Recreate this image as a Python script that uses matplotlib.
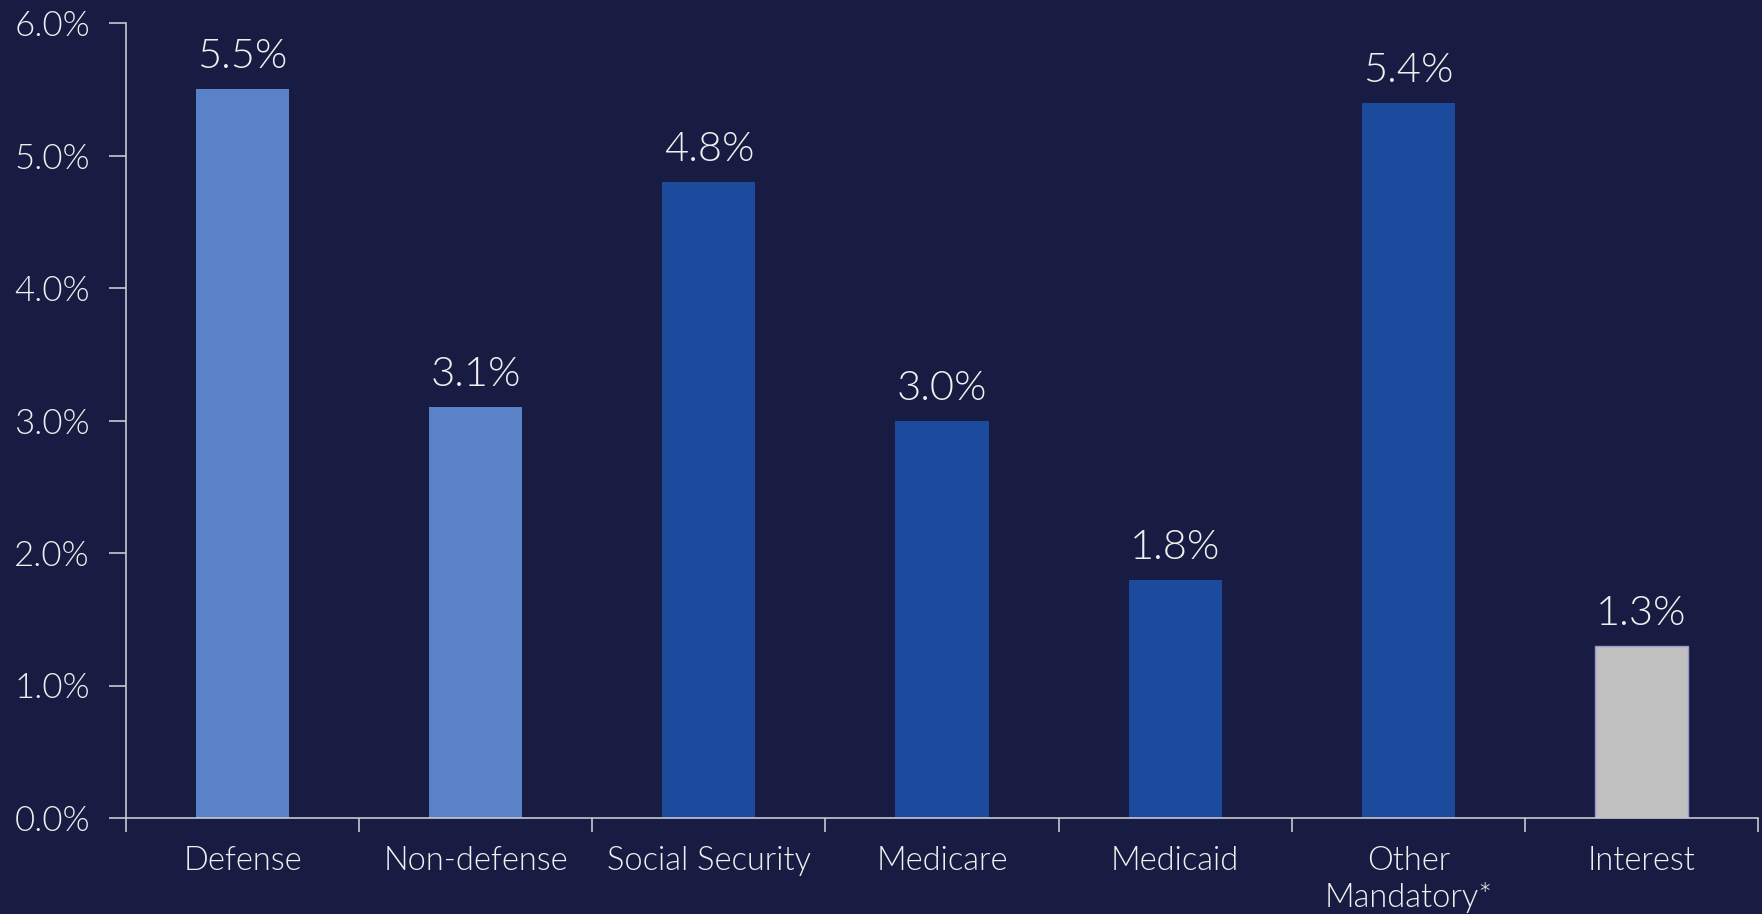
import matplotlib.pyplot as plt
from matplotlib.ticker import FixedLocator, PercentFormatter

CATEGORIES = ['Defense', 'Non-defense', 'Social Security', 'Medicare',
              'Medicaid', 'Other\nMandatory*', 'Interest']
VALUES = [5.5, 3.1, 4.8, 3.0, 1.8, 5.4, 1.3]
BAR_COLORS = ['#5A82C8', '#5A82C8', '#1C4A9C', '#1C4A9C',
              '#1C4A9C', '#1C4A9C', '#C0C0C0']

BG = '#181C42'
FG = '#F0F0F0'
AXIS = '#C8C8D0'

plt.rcParams['font.family'] = ['Lato', 'DejaVu Sans']
plt.rcParams['font.weight'] = 300

fig = plt.figure(figsize=(17.62, 9.14), dpi=100, facecolor=BG)
ax = fig.add_axes([126 / 1762, 1 - 818 / 914, (1758 - 126) / 1762, (818 - 23) / 914])
ax.set_facecolor(BG)

x = list(range(len(CATEGORIES)))
bars = ax.bar(x, VALUES, width=0.4, color=BAR_COLORS, zorder=2)
bars[-1].set_edgecolor('#9A96D0')
bars[-1].set_linewidth(1)

for xi, v in zip(x, VALUES):
    ax.annotate(f'{v:.1f}%', (xi, v), xytext=(0, 10), textcoords='offset points',
                ha='center', va='bottom', color=FG, fontsize=30)

ax.set_xlim(-0.5, len(CATEGORIES) - 0.5)
ax.set_ylim(0, 6)
ax.set_yticks([0, 1, 2, 3, 4, 5, 6])
ax.yaxis.set_major_formatter(PercentFormatter(decimals=1))

ax.set_xticks(x)
ax.set_xticklabels(CATEGORIES, fontsize=23.5, color=FG, va='top', linespacing=1.25)
ax.xaxis.set_minor_locator(FixedLocator([i - 0.5 for i in range(len(CATEGORIES) + 1)]))
ax.tick_params(axis='x', which='major', length=0, pad=20)
ax.tick_params(axis='x', which='minor', length=10, width=1.2, color=AXIS)
ax.tick_params(axis='y', length=12, width=1.2, color=AXIS, labelsize=25,
               labelcolor=FG, pad=14)

for side in ['top', 'right']:
    ax.spines[side].set_visible(False)
for side in ['left', 'bottom']:
    ax.spines[side].set_color(AXIS)
    ax.spines[side].set_linewidth(1.2)

fig.savefig('out.png', dpi=100, facecolor=BG)
